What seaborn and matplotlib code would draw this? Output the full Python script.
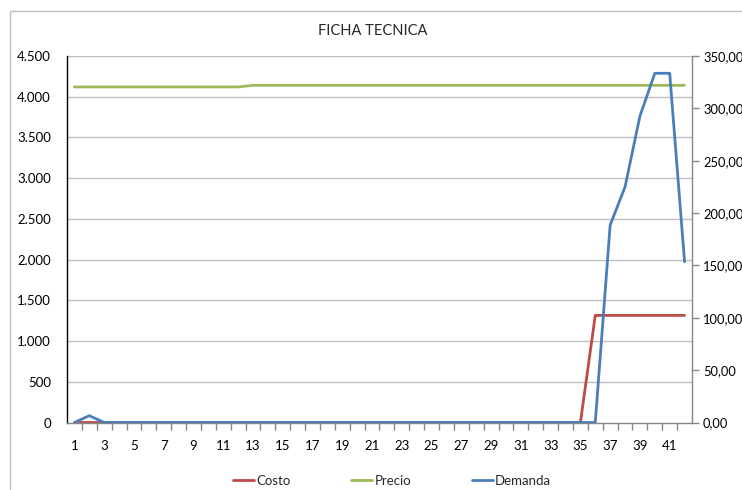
import matplotlib
matplotlib.use("Agg")
import matplotlib.pyplot as plt
import matplotlib.ticker as mticker
from matplotlib.lines import Line2D
from matplotlib.patches import Rectangle
import seaborn as sns
import pandas as pd
import numpy as np

categories = list(range(1, 43))
costo = [0] * 35 + [1315] * 7
precio = [4120] * 12 + [4140] * 30
demanda = [0, 6.5] + [0] * 34 + [188.5, 225, 292.5, 333.5, 333.5, 153.5]

title = "FICHA TECNICA"
left_ticks = list(range(0, 4501, 500))
right_ticks = list(range(0, 351, 50))

sns.set_style("white")
plt.rcParams['font.family'] = ['Lato', 'DejaVu Sans']

df = pd.DataFrame({"x": categories, "Costo": costo, "Precio": precio, "Demanda": demanda})

fig = plt.figure(figsize=(7.42, 4.90), dpi=100)
fig.patches.append(Rectangle((10 / 742, -0.1), 1.2, 1 - 11 / 490 + 0.1, transform=fig.transFigure,
                             fill=False, edgecolor="#BFBFBF", linewidth=1.0))
ax = fig.add_axes([67 / 742, 1 - 422.5 / 490, 625 / 742, (422.5 - 56) / 490])
ax2 = ax.twinx()

c_red = "#BE4B48"
c_green = "#9BBB59"
c_blue = "#4A7EBB"
lw = 2.0

sns.lineplot(data=df, x="x", y="Costo", ax=ax, color=c_red, linewidth=lw, legend=False)
sns.lineplot(data=df, x="x", y="Precio", ax=ax, color=c_green, linewidth=lw, legend=False)
sns.lineplot(data=df, x="x", y="Demanda", ax=ax2, color=c_blue, linewidth=lw, legend=False)

for a in (ax, ax2):
    a.set_xlim(0.5, 42.5)
    a.set_xlabel("")
    a.set_ylabel("")
    a.set_facecolor("none")
    for s in a.spines.values():
        s.set_visible(False)

ax.set_ylim(0, 4500)
ax2.set_ylim(0, 350)
ax.set_yticks(left_ticks)
ax2.set_yticks(right_ticks)
ax.yaxis.set_major_formatter(mticker.FuncFormatter(lambda v, p: f"{int(v):,}".replace(",", ".")))
ax2.yaxis.set_major_formatter(mticker.FuncFormatter(lambda v, p: f"{v:.2f}".replace(".", ",")))

for y in left_ticks[1:]:
    ax.axhline(y, color="#BFBFBF", linewidth=1.0, zorder=0)

ax.spines["left"].set_visible(True)
ax.spines["left"].set_color("black")
ax.spines["left"].set_linewidth(1.0)
ax.spines["bottom"].set_visible(True)
ax.spines["bottom"].set_color("#868686")
ax.spines["bottom"].set_linewidth(1.0)
ax2.spines["right"].set_visible(True)
ax2.spines["right"].set_color("#868686")
ax2.spines["right"].set_linewidth(1.0)

ax.tick_params(axis="y", left=False, labelsize=9.5, pad=8, colors="black")
ax2.tick_params(axis="y", right=True, length=5, width=1, color="#868686", direction="out",
                labelsize=9.3, pad=3, labelcolor="black")

# x ticks: marks at category boundaries, labels every other category
ax.set_xticks(np.arange(1.5, 42.5, 1.0), minor=True)
ax.set_xticks(categories[::2])
ax.set_xticklabels([str(c) for c in categories[::2]])
ax.tick_params(axis="x", which="minor", bottom=True, length=5, width=1, color="#868686", direction="out")
ax.tick_params(axis="x", which="major", bottom=False, labelsize=9.5, pad=9, labelcolor="black")
ax2.tick_params(axis="x", bottom=False, top=False)

fig.text(373 / 742, 1 - 31 / 490, title, ha="center", va="center", fontsize=10.5)

handles = [Line2D([], [], color=c_red, linewidth=lw),
           Line2D([], [], color=c_green, linewidth=lw),
           Line2D([], [], color=c_blue, linewidth=lw)]
fig.legend(handles, ["Costo", "Precio", "Demanda"], loc="center", bbox_to_anchor=(392 / 742, 1 - 481 / 490),
           ncol=3, frameon=False, fontsize=9.5, handlelength=1.6, handletextpad=0.15, columnspacing=4.6)

fig.savefig("out.png", dpi=100)
